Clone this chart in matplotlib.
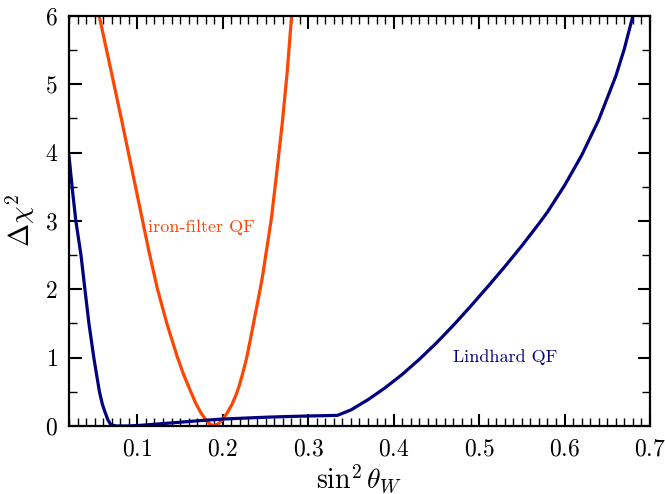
import numpy as np
import matplotlib.pyplot as plt
from matplotlib.ticker import MultipleLocator

# iron-filter quenching factor curve
iron_x = [0.052, 0.0553, 0.0685, 0.0815, 0.0945, 0.105, 0.1138, 0.1236, 0.1345,
          0.147, 0.1545, 0.1626, 0.168, 0.174, 0.1795, 0.1845, 0.1893, 0.1945,
          0.1995, 0.2050, 0.2105, 0.2150, 0.219, 0.2235, 0.228, 0.2320, 0.2359,
          0.2398, 0.2437, 0.2470, 0.250, 0.2535, 0.257, 0.2635, 0.270, 0.2755,
          0.2805, 0.2815]
iron_y = [6.2, 6.0, 5.24, 4.48, 3.7, 3.07, 2.54, 2.0, 1.5,
          1.0, 0.74, 0.5, 0.34, 0.2, 0.1, 0.035, 0.0, 0.03,
          0.09, 0.19, 0.31, 0.44, 0.58, 0.78, 1.0, 1.25, 1.5,
          1.75, 2.0, 2.23, 2.48, 2.76, 3.05, 3.75, 4.48, 5.2,
          6.0, 6.15]

# Lindhard quenching factor curve
lind_x = [0.02, 0.024, 0.028, 0.034, 0.0386, 0.0433, 0.049, 0.0556, 0.0590,
          0.0622, 0.0655, 0.0688, 0.075, 0.09, 0.104, 0.125, 0.15, 0.175,
          0.198, 0.225, 0.25, 0.275, 0.30, 0.334, 0.35, 0.37, 0.39, 0.41,
          0.43, 0.45, 0.47, 0.49, 0.51, 0.53, 0.55, 0.57, 0.58,
          0.60, 0.62, 0.64, 0.66, 0.67, 0.68, 0.684]
lind_y = [3.95, 3.45, 3.0, 2.5, 2.0, 1.5, 1.0, 0.5, 0.32,
          0.2, 0.09, 0.02, 0.0, 0.0, 0.01, 0.03, 0.055, 0.08,
          0.10, 0.115, 0.128, 0.138, 0.146, 0.155, 0.235, 0.385, 0.559, 0.755,
          0.975, 1.215, 1.475, 1.751, 2.037, 2.331, 2.637, 2.961, 3.131,
          3.52, 3.96, 4.48, 5.12, 5.52, 6.0, 6.2]

plt.rcParams['font.family'] = 'serif'
plt.rcParams['font.serif'] = ['cmr10']
plt.rcParams['mathtext.fontset'] = 'cm'
plt.rcParams['axes.formatter.use_mathtext'] = True

fig = plt.figure(figsize=(6.65, 4.94), dpi=100)
ax = fig.add_axes([0.1038, 0.1377, 0.8736, 0.8299])

ax.plot(iron_x, iron_y, color='#ff4500', lw=2.3)
ax.plot(lind_x, lind_y, color='#000080', lw=2.3)

ax.text(0.113, 2.9, 'iron-filter QF', color='#ff4500', fontsize=13, va='center')
ax.text(0.469, 1.01, 'Lindhard QF', color='#000080', fontsize=13, va='center')

ax.set_xlim(0.02, 0.70)
ax.set_ylim(0, 6)
ax.xaxis.set_major_locator(MultipleLocator(0.1))
ax.xaxis.set_minor_locator(MultipleLocator(0.01))
ax.yaxis.set_major_locator(MultipleLocator(1))
ax.yaxis.set_minor_locator(MultipleLocator(0.5))
ax.tick_params(which='both', direction='in', top=True, right=True, labelsize=17)
ax.tick_params(which='major', length=9, width=1.5)
ax.tick_params(which='minor', length=6, width=1.0)
ax.tick_params(axis='x', which='major', pad=9)
ax.tick_params(axis='y', which='major', pad=8)
for s in ax.spines.values():
    s.set_linewidth(1.6)

ax.set_xlabel(r'$\sin^2\theta_W$', fontsize=20, labelpad=1)
ax.set_ylabel(r'$\Delta\chi^2$', fontsize=20, labelpad=6)

fig.savefig('out.png', dpi=100)
